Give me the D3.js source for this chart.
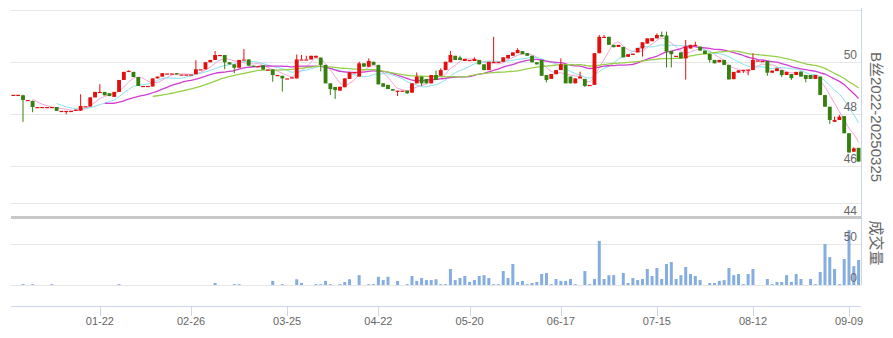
<!DOCTYPE html>
<html><head><meta charset="utf-8">
<script src="https://cdn.jsdelivr.net/npm/d3@7"></script>
<style>
html,body{margin:0;padding:0;background:#fff;}
svg{display:block;font-family:"Liberation Sans",Arial,"Noto Sans CJK SC",sans-serif;}
</style></head>
<body><svg id="c" width="893" height="338"></svg>
<script>
// ---- data ----
const openP = [
48.72,48.72,48.70,48.52,48.48,48.25,48.25,48.25,48.25,48.25,
48.10,48.10,48.10,48.10,48.11,48.28,48.27,48.62,48.83,48.83,
48.78,48.64,48.83,49.29,49.60,49.60,49.40,49.06,49.06,49.04,
49.35,49.42,49.54,49.54,49.55,49.50,49.50,49.50,49.51,49.70,
49.70,49.97,50.06,50.25,50.25,49.97,49.89,49.76,50.08,50.08,
49.84,49.82,49.86,49.69,49.69,49.48,49.45,49.35,49.35,49.35,
50.08,50.08,50.08,50.15,50.15,49.87,49.16,49.02,48.88,49.01,
49.33,49.59,49.42,49.93,49.80,49.99,49.87,49.16,49.10,48.94,
48.88,48.88,48.88,48.80,49.16,49.42,49.33,49.16,49.48,49.45,
49.67,49.97,50.22,50.15,50.02,50.06,50.02,50.06,49.89,49.67,
49.99,49.99,49.99,50.12,50.22,50.32,50.40,50.32,50.22,49.97,
50.06,49.48,49.33,49.51,49.67,49.87,49.42,49.16,49.35,49.33,
49.10,49.10,50.32,50.95,50.95,50.64,50.56,50.56,50.18,50.25,
50.35,50.50,50.69,50.78,50.89,51.02,51.00,50.40,50.22,50.35,
50.12,50.50,50.60,50.57,50.42,50.29,50.06,49.97,50.06,49.87,
49.32,49.57,49.64,49.67,49.67,50.04,50.02,50.02,49.57,49.63,
49.67,49.48,49.52,49.48,49.61,49.48,49.48,49.33,49.42,48.71,
48.26,47.68,47.75,47.90,47.24,46.53,46.68];
const closeP = [
48.72,48.72,48.52,48.52,48.25,48.25,48.25,48.25,48.25,48.10,
48.10,48.10,48.10,48.15,48.29,48.28,48.62,48.83,48.83,48.70,
48.67,48.83,49.29,49.60,49.64,49.40,49.06,49.06,49.06,49.35,
49.42,49.55,49.54,49.54,49.50,49.50,49.50,49.50,49.70,49.70,
49.97,50.06,50.25,50.25,49.97,49.89,49.76,50.06,50.08,49.84,
49.80,49.82,49.69,49.69,49.48,49.48,49.35,49.35,49.39,50.08,
50.08,50.08,50.22,50.22,49.87,49.16,48.94,48.90,49.03,49.35,
49.59,49.59,49.93,49.80,50.02,49.87,49.12,49.03,48.94,48.88,
48.88,48.88,48.78,49.16,49.42,49.16,49.16,49.48,49.29,49.67,
49.99,50.25,50.06,50.06,50.10,50.06,50.10,49.89,49.67,49.99,
49.99,49.99,50.16,50.25,50.35,50.44,50.28,50.22,49.97,49.89,
49.45,49.29,49.52,49.67,49.89,49.16,49.16,49.35,49.42,49.06,
49.10,50.32,50.95,50.95,50.64,50.55,50.64,50.16,50.28,50.30,
50.52,50.74,50.89,50.90,51.02,50.96,50.38,50.28,50.22,50.12,
50.57,50.64,50.64,50.42,50.29,50.06,49.93,50.06,49.87,49.31,
49.60,49.66,49.68,49.69,50.06,50.04,50.02,49.57,49.65,49.74,
49.48,49.60,49.36,49.60,49.42,49.33,49.33,49.48,48.71,48.26,
47.75,47.75,47.88,47.24,46.50,46.66,46.15];
const highP = [
48.72,48.72,48.72,48.52,48.50,48.25,48.25,48.25,48.25,48.25,
48.10,48.10,48.10,48.15,48.74,48.28,48.62,48.83,49.13,48.83,
48.78,48.83,49.29,49.60,49.66,49.60,49.40,49.06,49.06,49.35,
49.42,49.55,49.54,49.54,49.55,49.50,49.50,49.50,50.05,49.70,
49.97,50.06,50.40,50.25,50.25,49.97,49.89,50.06,50.48,50.08,
49.84,49.82,49.86,49.69,49.69,49.48,49.45,49.35,49.39,50.27,
50.25,50.22,50.22,50.22,50.15,49.87,49.16,49.02,49.03,49.35,
49.59,49.59,49.99,49.93,50.12,49.99,49.87,49.16,49.10,48.94,
48.88,48.88,48.88,49.16,49.58,49.42,49.33,49.48,49.65,49.74,
49.99,50.40,50.22,50.22,50.10,50.06,50.16,50.06,49.89,49.99,
50.95,49.99,50.16,50.25,50.35,50.51,50.40,50.32,50.22,49.97,
50.06,49.48,49.52,49.67,50.12,49.87,49.42,49.35,49.61,49.33,
49.10,50.32,51.02,51.02,50.95,50.64,50.64,50.56,50.28,50.30,
50.52,50.74,50.89,50.90,51.08,51.15,51.15,50.40,50.22,50.35,
50.83,50.64,50.76,50.57,50.42,50.29,50.06,50.06,50.06,49.87,
49.60,49.66,49.68,49.69,50.31,50.04,50.02,50.02,49.65,49.74,
49.67,49.60,49.52,49.60,49.61,49.48,49.48,49.48,49.42,48.71,
48.26,47.88,47.94,47.90,47.24,46.70,46.68];
const lowP = [
48.72,48.72,47.68,48.52,48.05,48.25,48.25,48.25,48.25,48.10,
48.10,47.97,48.10,48.10,48.10,48.28,48.27,48.62,48.80,48.70,
48.67,48.64,48.83,49.29,49.60,49.40,49.06,49.06,49.06,49.04,
49.35,49.42,49.54,49.54,49.50,49.50,49.50,49.50,49.51,49.70,
49.70,49.97,50.06,50.25,49.70,49.89,49.55,49.76,50.08,49.84,
49.80,49.82,49.69,49.69,49.22,49.48,48.84,49.35,49.35,49.35,
50.08,50.08,50.08,50.15,49.62,49.16,48.71,48.56,48.88,49.01,
49.33,49.59,49.42,49.80,49.80,49.87,49.12,49.03,48.94,48.88,
48.67,48.88,48.75,48.80,49.16,49.06,49.16,49.16,49.29,49.45,
49.67,49.97,50.06,50.06,50.02,50.06,50.02,49.89,49.67,49.67,
49.99,49.99,49.99,50.12,50.22,50.32,50.28,50.22,49.97,49.89,
49.45,49.20,49.33,49.51,49.67,49.16,49.16,49.16,49.35,49.02,
49.10,49.10,50.32,50.95,50.64,50.55,50.56,50.16,50.18,50.25,
50.35,50.19,50.69,50.78,50.89,50.96,49.77,49.77,50.22,50.12,
49.30,50.50,50.60,50.42,50.29,49.96,49.93,49.97,49.87,49.31,
49.32,49.57,49.56,49.47,49.67,50.04,50.02,49.45,49.57,49.63,
49.40,49.48,49.29,49.48,49.42,49.20,49.33,49.33,48.71,48.26,
47.60,47.68,47.75,47.24,46.50,46.53,46.15];
const volume = [
0,0,1,0,1,0,0,0,1,0,
0,0,0,0,0,0,0,0,0,0,
0,0,1,0,0,0,0,0,0,0,
0,0,0,0,0,0,0,0,0,0,
0,0,2.4,0,0,0,1,1,0,0,
0,0,0,0,5,0,1,0,0,7,
2.5,0,0,1,1,5,1,0,1,3.6,
7,0,12,0,1,1,10,6,10,0,
5,0,1,11,5,8.5,6,6,7,1,
1,19.5,6,8.5,11,3.7,6,11,12,8.5,
1,1,17,8.5,25.6,3.7,5,1,2.4,3.7,
13.4,14.6,1,7.3,5,5,7.3,1,0,17,
1,7.3,53.7,7.3,12,12,0,14.6,2.4,8.5,
6,7.3,19.5,11,20.7,7.3,25.6,28,7.3,12,
22,13.4,11,6,0,2.4,2.4,5,6,20.7,
12,13.4,1,13.4,19.5,0,0,7.3,1,3.7,
3.7,12,3.7,13.4,7.3,0,7.3,1,15.8,50,
34,19.5,1,31.7,67,23,30.5];
const tickLabels = ["01-22","02-26","03-25","04-22","05-20","06-17","07-15","08-12","09-09"];
const tickIndex  = [18,37,57,76,95,114,134,154,174];
const priceTicks = [44,46,48,50,52];
const volumeTicks = [0,50,100];
const maPeriods = [5,10,20,30];
const maColors  = ["#f2a4d6","#86e2ee","#d23fd2","#98cf4a"];
const seriesTitle = "B丝2022-20250325";
const volumeTitle = "成交量";

// ---- drawing ----
const svg = d3.select("#c");
const N = openP.length;
const candles = d3.range(N).map(i => ({i, o:openP[i], c:closeP[i], h:highP[i], l:lowP[i], v:volume[i]}));

const left = 11, right = 861;
const x = d3.scaleBand().domain(d3.range(N)).range([left, right]).padding(0);
const y = d3.scaleLinear().domain([44, 52]).range([217.5, 9.5]);
const yv = d3.scaleLinear().domain([0, 100]).range([285, 203]);
const cx = i => x(i) + x.bandwidth()/2;

// grid lines (price)
svg.append("g").selectAll("line").data(priceTicks.filter(t => t > 44)).join("line")
  .attr("x1", left).attr("x2", right)
  .attr("y1", d => Math.round(y(d)) + 0.5).attr("y2", d => Math.round(y(d)) + 0.5)
  .attr("stroke", "#e6e6e6").attr("stroke-width", 1);
// grid lines (volume)
svg.append("g").selectAll("line").data(volumeTicks).join("line")
  .attr("x1", left).attr("x2", right)
  .attr("y1", d => Math.round(yv(d)) + 0.5).attr("y2", d => Math.round(yv(d)) + 0.5)
  .attr("stroke", "#e6e6e6").attr("stroke-width", 1);
// separator at price axis bottom
svg.append("line").attr("x1", left).attr("x2", right)
  .attr("y1", y(44)).attr("y2", y(44))
  .attr("stroke", "#c8c8c8").attr("stroke-width", 3);

// right vertical axis line
svg.append("line").attr("x1", right + 0.5).attr("x2", right + 0.5)
  .attr("y1", 8).attr("y2", yv(0))
  .attr("stroke", "#ccd6eb").attr("stroke-width", 1);

// volume bars
svg.append("g").selectAll("rect").data(candles.filter(d => d.v > 0)).join("rect")
  .attr("x", d => cx(d.i) - 1.5).attr("width", 3)
  .attr("y", d => yv(d.v)).attr("height", d => Math.max(0.8, yv(0) - yv(d.v)))
  .attr("fill", "#86ade0");

// moving averages
const ma = p => candles.map((d, i) => {
  if (i < p - 1) return null;
  return {i, v: d3.mean(closeP.slice(i - p + 1, i + 1))};
}).filter(Boolean);
const line = d3.line().x(d => cx(d.i)).y(d => y(d.v)).curve(d3.curveMonotoneX);
maPeriods.forEach((p, k) => {
  svg.append("path").datum(ma(p)).attr("d", line)
    .attr("fill", "none").attr("stroke", maColors[k]).attr("stroke-width", k >= 2 ? 1.3 : 1);
});

// candles
const up = "#e30f0f", down = "#357f0f";
const bw = x.bandwidth() * 0.8;
const g = svg.append("g");
g.selectAll("line").data(candles).join("line")
  .attr("x1", d => cx(d.i)).attr("x2", d => cx(d.i))
  .attr("y1", d => y(d.h)).attr("y2", d => y(d.l))
  .attr("stroke", d => d.c >= d.o ? up : down).attr("stroke-width", 1);
g.selectAll("rect").data(candles).join("rect")
  .attr("x", d => cx(d.i) - bw/2).attr("width", bw)
  .attr("y", d => y(Math.max(d.o, d.c)))
  .attr("height", d => Math.max(1.2, Math.abs(y(d.o) - y(d.c))))
  .attr("fill", d => d.c >= d.o ? up : down);

// right axis labels
const lab = svg.append("g").attr("font-size", 12).attr("fill", "#666").attr("text-anchor", "end");
lab.selectAll("text.p").data(priceTicks.filter(t => t < 52)).join("text").attr("class", "p")
  .attr("x", 857).attr("y", d => y(d) - 3).text(d => d);
lab.selectAll("text.v").data(volumeTicks.filter(t => t < 100)).join("text").attr("class", "v")
  .attr("x", 857).attr("y", d => yv(d) - 3).text(d => d);

// bottom axis
const xa = svg.append("g");
xa.append("line").attr("x1", left).attr("x2", right).attr("y1", 306.5).attr("y2", 306.5)
  .attr("stroke", "#ccd6eb");
xa.selectAll("line.t").data(tickIndex).join("line").attr("class", "t")
  .attr("x1", d => Math.round(cx(d)) + 0.5).attr("x2", d => Math.round(cx(d)) + 0.5)
  .attr("y1", 306).attr("y2", 316).attr("stroke", "#ccd6eb");
xa.selectAll("text").data(tickIndex).join("text")
  .attr("x", d => cx(d)).attr("y", 325).attr("text-anchor", "middle")
  .attr("font-size", 11).attr("fill", "#666").text((d, k) => tickLabels[k]);

// rotated titles
svg.append("text").attr("transform", "translate(871,117) rotate(90)")
  .attr("text-anchor", "middle").attr("font-size", 15).attr("fill", "#666").text(seriesTitle);
svg.append("text").attr("transform", "translate(871,243) rotate(90)")
  .attr("text-anchor", "middle").attr("font-size", 15).attr("fill", "#666").text(volumeTitle);
</script></body></html>
